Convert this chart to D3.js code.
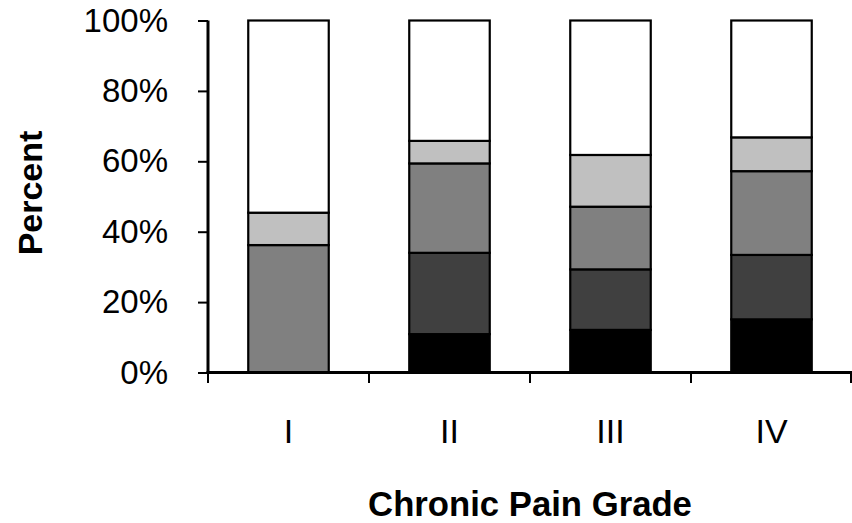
<!DOCTYPE html>
<html><head><meta charset="utf-8">
<script src="https://cdn.jsdelivr.net/npm/d3@7"></script>
<style>body{margin:0;background:#fff}svg{display:block}</style>
</head><body>
<svg id="chart" width="852" height="523"></svg>
<script>
const categories = ["I", "II", "III", "IV"];
const seriesNames = ["s1", "s2", "s3", "s4", "s5"];
const s1 = [0, 10.9, 12.1, 15.1];
const s2 = [0, 23.1, 17.2, 18.3];
const s3 = [36.2, 25.4, 17.8, 23.8];
const s4 = [9.2, 6.4, 14.7, 9.6];
const s5 = [54.6, 34.2, 38.2, 33.2];
const colors = ["#000000", "#404040", "#808080", "#c0c0c0", "#ffffff"];
const yTicks = [0, 20, 40, 60, 80, 100];
const yTitle = "Percent";
const xTitle = "Chronic Pain Grade";

const rows = categories.map((c, i) => ({cat: c, s1: s1[i], s2: s2[i], s3: s3[i], s4: s4[i], s5: s5[i]}));
const stack = d3.stack().keys(seriesNames)(rows);

const svg = d3.select("#chart");
const font = "Arial, 'Liberation Sans', sans-serif";
const x = d3.scaleBand().domain(categories).range([208, 852]).paddingInner(0.5).paddingOuter(0.25);
const xBand = d3.scaleBand().domain(categories).range([208, 852]);
const y = d3.scaleLinear().domain([0, 100]).range([372.5, 20.5]);

svg.append("g").selectAll("g").data(stack).join("g")
  .attr("fill", (d, i) => colors[i])
  .selectAll("rect").data(d => d).join("rect")
  .attr("x", d => x(d.data.cat))
  .attr("width", x.bandwidth())
  .attr("y", d => y(d[1]))
  .attr("height", d => y(d[0]) - y(d[1]))
  .attr("stroke", "#000").attr("stroke-width", 2.2);

// y axis
const ya = svg.append("g").attr("transform", "translate(208,0)")
  .call(d3.axisLeft(y).tickValues(yTicks).tickFormat(d => d + "%").tickSize(10).tickPadding(30));
ya.select(".domain").attr("stroke", "#000").attr("stroke-width", 3).attr("d", "M0,20.5V372.5");
ya.selectAll(".tick line").attr("stroke", "#000").attr("stroke-width", 2);
ya.selectAll(".tick text").attr("font-family", font).attr("font-size", 33).attr("fill", "#000");

// x axis
const xa = svg.append("g").attr("transform", "translate(0,372.5)")
  .call(d3.axisBottom(xBand).tickSize(0).tickPadding(0));
xa.select(".domain").attr("stroke", "#000").attr("stroke-width", 3).attr("d", "M206.5,0H852");
xa.selectAll(".tick text").attr("font-family", font).attr("font-size", 34).attr("fill", "#000")
  .attr("dy", null).attr("y", 70);
const edges = categories.map(c => xBand(c)).concat([852 - 1]);
svg.append("g").selectAll("line").data(edges).join("line")
  .attr("x1", d => d).attr("x2", d => d).attr("y1", 372.5).attr("y2", 383)
  .attr("stroke", "#000").attr("stroke-width", 2);

svg.append("text").attr("x", 530).attr("y", 515.5).attr("text-anchor", "middle")
  .attr("font-family", font).attr("font-weight", "bold").attr("font-size", 34.7).text(xTitle);
svg.append("text").attr("transform", "translate(42,193) rotate(-90)").attr("text-anchor", "middle")
  .attr("font-family", font).attr("font-weight", "bold").attr("font-size", 34).text(yTitle);
</script>
</body></html>
